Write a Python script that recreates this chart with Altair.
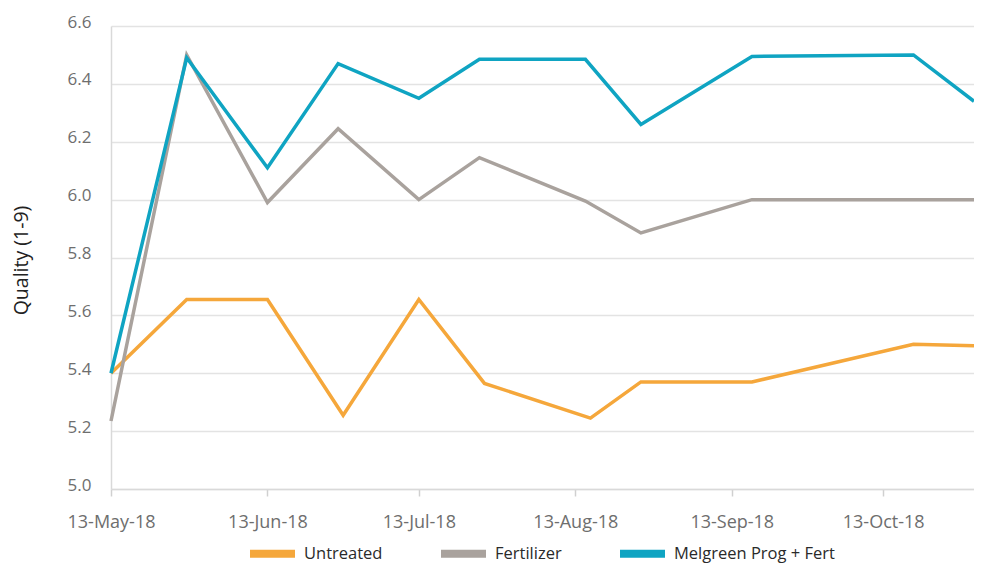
import altair as alt
import pandas as pd

# ---- data ----
series_names = ["Untreated", "Fertilizer", "Melgreen Prog + Fert"]
series_colors = ["#F5A73B", "#A9A29D", "#0FA4C2"]

dates_untreated = ["2018-05-13", "2018-05-28", "2018-06-13", "2018-06-28", "2018-07-13",
                   "2018-07-26", "2018-08-16", "2018-08-26", "2018-09-17", "2018-10-19",
                   "2018-10-31"]
dates_treated = ["2018-05-13", "2018-05-28", "2018-06-13", "2018-06-27", "2018-07-13",
                 "2018-07-25", "2018-08-15", "2018-08-26", "2018-09-17", "2018-10-19",
                 "2018-10-31"]

untreated = [5.40, 5.655, 5.655, 5.255, 5.655, 5.365, 5.245, 5.37, 5.37, 5.50, 5.495]
fertilizer = [5.235, 6.50, 5.99, 6.245, 6.00, 6.145, 5.995, 5.885, 6.00, 6.00, 6.00]
melgreen = [5.40, 6.49, 6.11, 6.47, 6.35, 6.485, 6.485, 6.26, 6.495, 6.50, 6.34]

y_ticks = [5.0, 5.2, 5.4, 5.6, 5.8, 6.0, 6.2, 6.4, 6.6]
tick_months = [5, 6, 7, 8, 9, 10]

rows = []
for name, ds, vs in [
    (series_names[0], dates_untreated, untreated),
    (series_names[1], dates_treated, fertilizer),
    (series_names[2], dates_treated, melgreen),
]:
    for d, v in zip(ds, vs):
        rows.append({"date": d, "quality": v, "series": name})
df = pd.DataFrame(rows)

FONT = "Open Sans"

x = alt.X(
    "date:T",
    title=None,
    scale=alt.Scale(
        type="utc",
        domain=[alt.DateTime(year=2018, month=5, date=13, utc=True),
                alt.DateTime(year=2018, month=10, date=31, utc=True)],
    ),
    axis=alt.Axis(
        values=[alt.DateTime(year=2018, month=m, date=13, utc=True) for m in tick_months],
        format="%d-%b-%y",
        grid=False,
        domain=True,
        domainColor="#d9d9d9",
        domainWidth=1.5,
        ticks=True,
        tickSize=7,
        tickColor="#d0d0d0",
        tickWidth=1.5,
        labelFont=FONT,
        labelFontSize=18,
        labelColor="#6e6e6e",
        labelPadding=17,
        labelBaseline="top",
        labelFlush=False,
        labelOverlap=False,
    ),
)

y = alt.Y(
    "quality:Q",
    scale=alt.Scale(domain=[5.0, 6.6], nice=False, zero=False),
    axis=alt.Axis(
        values=y_ticks,
        format=".1f",
        title="Quality (1-9)",
        titleFont=FONT,
        titleFontSize=19.5,
        titleFontWeight="normal",
        titleColor="#222222",
        titleAngle=270,
        titleAlign="center",
        titleBaseline="middle",
        titleX=-90,
        titleY=234,
        grid=True,
        gridColor="#e3e3e3",
        gridWidth=1.5,
        domain=True,
        domainColor="#d9d9d9",
        domainWidth=1.5,
        ticks=False,
        labelFont=FONT,
        labelFontSize=17,
        labelColor="#6e6e6e",
        labelPadding=20,
        labelOffset=-4,
        labelFlush=False,
    ),
)

color = alt.Color(
    "series:N",
    scale=alt.Scale(domain=series_names, range=series_colors),
    legend=alt.Legend(
        title=None,
        orient="none",
        direction="horizontal",
        legendX=135,
        legendY=501,
        symbolType="stroke",
        symbolStrokeWidth=8,
        symbolSize=2025,
        labelFont=FONT,
        labelFontSize=16.5,
        labelColor="#2a2a2a",
        labelOffset=5,
        labelLimit=400,
        columnPadding=42,
    ),
)

chart = (
    alt.Chart(df)
    .mark_line(strokeWidth=3.5, strokeJoin="miter")
    .encode(x=x, y=y, color=color, order=alt.Order("date:T"))
    .properties(
        width=863,
        height=463,
        padding={"left": 103, "top": 18, "right": 0, "bottom": 75},
        autosize=alt.AutoSizeParams(type="none"),
        background="white",
    )
    .configure_view(stroke=None)
)

chart.save("out.html", embed_options={"renderer": "svg", "actions": False})
